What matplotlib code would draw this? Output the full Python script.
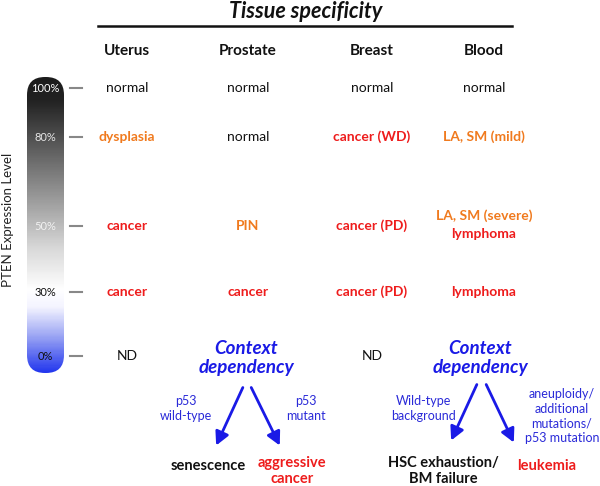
import numpy as np
import matplotlib
matplotlib.use("Agg")
import matplotlib.pyplot as plt
from matplotlib.patches import FancyBboxPatch, FancyArrowPatch
from matplotlib.colors import LinearSegmentedColormap

plt.rcParams['font.family'] = ['Lato', 'DejaVu Sans']

tissues = ["Uterus", "Prostate", "Breast", "Blood"]
levels = ["100%", "80%", "50%", "30%", "0%"]
level_values = [100, 80, 50, 30, 0]
# phenotype per (level, tissue): (text, colour key)
phenotypes = {
    100: [("normal", "k"), ("normal", "k"), ("normal", "k"), ("normal", "k")],
    80: [("dysplasia", "o"), ("normal", "k"), ("cancer (WD)", "r"), ("LA, SM (mild)", "o")],
    50: [("cancer", "r"), ("PIN", "o"), ("cancer (PD)", "r"), ("LA, SM (severe)", "o")],
    30: [("cancer", "r"), ("cancer", "r"), ("cancer (PD)", "r"), ("lymphoma", "r")],
}
zero_row = ["ND", None, "ND", None]

COL = {"k": "#111111", "o": "#f07a1e", "r": "#ee1c1c", "b": "#1a1ae6"}

fig = plt.figure(figsize=(6.0, 4.86), dpi=100)
ax = fig.add_axes([0, 0, 1, 1])
ax.set_xlim(0, 600)
ax.set_ylim(486, 0)
ax.axis("off")

col_x = [127, 248, 372, 484]
row_y = {100: 88, 80: 137, 50: 226, 30: 292, 0: 356}

# title and line
ax.text(306, 12, "Tissue specificity", ha="center", va="center", fontsize=15.5,
        fontweight="bold", fontstyle="italic", color="#111111")
ax.plot([98, 512], [26, 26], color="#111111", lw=1.8)
for x, t in zip(col_x, tissues):
    ax.text(x, 51, t, ha="center", va="center", fontsize=11, fontweight="bold", color="#111111")

# gradient bar
cmap = LinearSegmentedColormap.from_list("pten", [
    (0.0, "#1c1c1c"), (0.08, "#222222"), (0.25, "#606060"), (0.45, "#a8a8a8"),
    (0.58, "#d8d8d8"), (0.72, "#ffffff"), (0.78, "#f4f4ff"), (0.88, "#9aa4f4"),
    (1.0, "#2438ee")])
bx0, bx1, by0, by1 = 27, 64, 77, 373
grad = np.linspace(0, 1, 300).reshape(-1, 1)
im = ax.imshow(grad, cmap=cmap, extent=[bx0, bx1, by1, by0], aspect="auto", zorder=1)
clip = FancyBboxPatch((bx0, by0), bx1 - bx0, by1 - by0,
                      boxstyle="round,pad=0,rounding_size=18", transform=ax.transData,
                      facecolor="none", edgecolor="none")
ax.add_patch(clip)
im.set_clip_path(clip)
ax.set_xlim(0, 600)
ax.set_ylim(486, 0)

lab_cols = {100: "#ffffff", 80: "#e6e6e6", 50: "#f2f2f2", 30: "#111111", 0: "#111111"}
for v, lab in zip(level_values, levels):
    y = row_y[v]
    ax.text(45, y, lab, ha="center", va="center", fontsize=8, color=lab_cols[v], zorder=3)
    ax.plot([70, 82], [y, y], color="#888888", lw=1.5)

ax.text(8, 220, "PTEN Expression Level", rotation=90, ha="center", va="center",
        fontsize=9.5, color="#222222")

# phenotypes
for v, items in phenotypes.items():
    for i, (t, c) in enumerate(items):
        y = row_y[v]
        if v == 50 and i == 3:
            y = 216
        ax.text(col_x[i], y, t, ha="center", va="center", fontsize=10,
                fontweight="normal" if c == "k" else "bold", color=COL[c])
ax.text(col_x[3], 234, "lymphoma", ha="center", va="center", fontsize=10,
        fontweight="bold", color=COL["r"])

for i, t in enumerate(zero_row):
    if t:
        ax.text(col_x[i], row_y[0], t, ha="center", va="center", fontsize=10, color=COL["k"])

# context dependency
for cx in (246, 480):
    ax.text(cx, 358, "Context\ndependency", ha="center", va="center", fontsize=13.5,
            fontweight="bold", fontstyle="italic", color=COL["b"], linespacing=1.1)

arrows = [((244, 385), (215, 448)), ((250, 385), (281, 448)),
          ((478, 382), (450, 443)), ((485, 382), (515, 445))]
for (x0, y0), (x1, y1) in arrows:
    ax.add_patch(FancyArrowPatch((x0, y0), (x1, y1), arrowstyle="-|>,head_length=5,head_width=2.6",
                                 mutation_scale=1.6, color=COL["b"], lw=2))

ax.text(186, 408, "p53\nwild-type", ha="center", va="center", fontsize=9, color="#2a2ad8",
        linespacing=1.3)
ax.text(306, 408, "p53\nmutant", ha="center", va="center", fontsize=9, color="#2a2ad8",
        linespacing=1.3)
ax.text(423, 408, "Wild-type\nbackground", ha="center", va="center", fontsize=9,
        color="#2a2ad8", linespacing=1.3)
ax.text(562, 416, "aneuploidy/\nadditional\nmutations/\np53 mutation", ha="center",
        va="center", fontsize=9, color="#2a2ad8", linespacing=1.25)

ax.text(208, 466, "senescence", ha="center", va="center", fontsize=10.5, fontweight="bold",
        color=COL["k"])
ax.text(292, 471, "aggressive\ncancer", ha="center", va="center", fontsize=10.5,
        fontweight="bold", color=COL["r"], linespacing=1.15)
ax.text(443, 471, "HSC exhaustion/\nBM failure", ha="center", va="center", fontsize=10.5,
        fontweight="bold", color=COL["k"], linespacing=1.15)
ax.text(547, 466, "leukemia", ha="center", va="center", fontsize=10.5, fontweight="bold",
        color=COL["r"])

fig.savefig("out.png", dpi=100)
